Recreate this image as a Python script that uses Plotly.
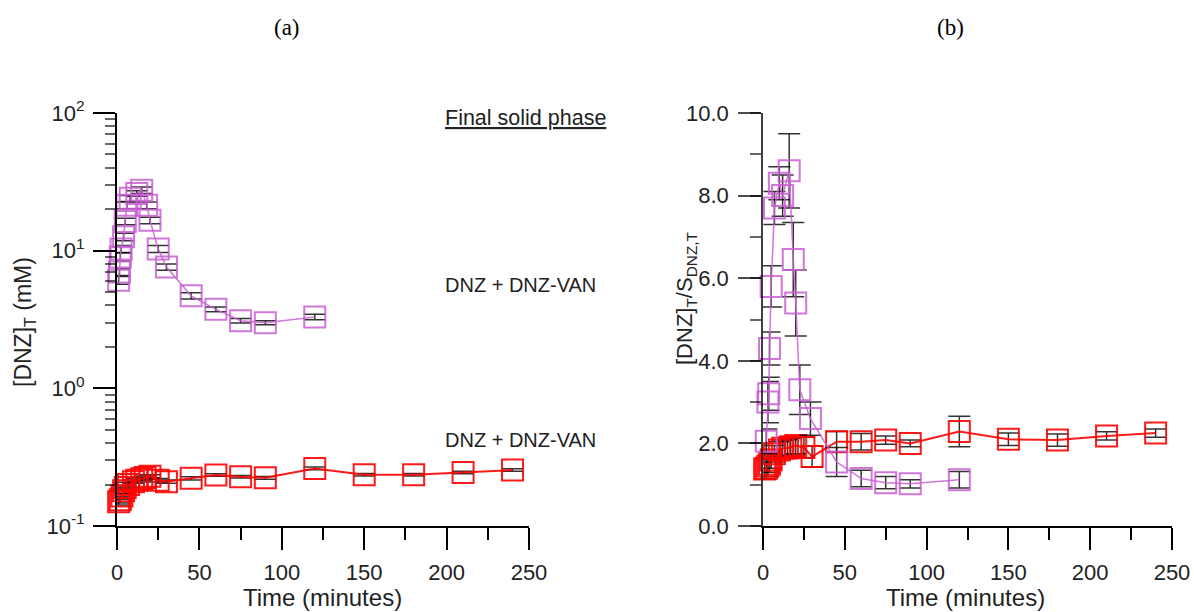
import plotly.graph_objects as go

# ---------------- data ----------------
# Panel (a): total DNZ concentration (mM)
t_a_purple = [1, 1.5, 2, 2.5, 4, 5, 6, 8, 12, 15, 18, 20, 25, 30, 45, 60, 75, 90, 120]
dnz_a_purple = [6.1, 7.0, 9.0, 10.3, 12.6, 16.3, 21.4, 24.0, 26.0, 27.5, 21.4, 16.6, 10.3, 7.6, 4.7, 3.75, 3.1, 3.0, 3.3]
err_a_purple = [0.4, 0.4, 0.6, 0.6, 0.8, 0.9, 1.2, 1.2, 1.2, 1.5, 1.2, 0.9, 0.6, 0.4, 0.25, 0.15, 0.12, 0.1, 0.15]

t_red = [1, 2, 3, 4, 5, 7, 10, 12, 15, 17, 20, 25, 30, 45, 60, 75, 90, 120, 150, 180, 210, 240]
dnz_a_red = [0.15, 0.155, 0.165, 0.18, 0.19, 0.2, 0.21, 0.215, 0.22, 0.225, 0.23, 0.215, 0.21,
             0.222, 0.235, 0.228, 0.224, 0.262, 0.236, 0.236, 0.245, 0.255]
err_a_red = [0.008, 0.008, 0.008, 0.008, 0.008, 0.008, 0.006, 0.006, 0.006, 0.006, 0.006, 0.006, 0.006,
             0.006, 0.005, 0.005, 0.005, 0.006, 0.005, 0.005, 0.005, 0.005]

# Panel (b): [DNZ]T / S_DNZ,T
t_b_purple = [2, 3, 3.5, 4, 5, 7, 10, 12, 16, 18.5, 20, 22.5, 29, 45, 60, 75, 90, 120]
ratio_b_purple = [2.05, 3.0, 3.2, 4.3, 5.8, 7.7, 8.3, 8.0, 8.6, 6.45, 5.4, 3.3, 2.6, 1.55, 1.15, 1.05, 1.02, 1.12]
err_b_purple = [0.3, 0.5, 0.4, 0.4, 0.5, 0.4, 0.4, 0.5, 0.9, 0.9, 0.8, 0.6, 0.4, 0.35, 0.2, 0.15, 0.1, 0.2]

ratio_b_red = [1.38, 1.4, 1.45, 1.5, 1.6, 1.75, 1.84, 1.88, 1.89, 1.92, 1.95, 1.9, 1.68,
               2.04, 2.04, 2.08, 2.0, 2.29, 2.1, 2.08, 2.18, 2.25]
err_b_red = [0.25, 0.25, 0.25, 0.2, 0.2, 0.2, 0.2, 0.2, 0.2, 0.2, 0.2, 0.25, 0.25,
             0.25, 0.2, 0.1, 0.08, 0.37, 0.15, 0.15, 0.1, 0.1]

x_ticks = [0, 50, 100, 150, 200, 250]
ya_ticks = [0.1, 1, 10, 100]
ya_ticktext = ["10<sup>-1</sup>", "10<sup>0</sup>", "10<sup>1</sup>", "10<sup>2</sup>"]
ya_minor = [m * d for d in (0.1, 1, 10) for m in range(2, 10)]
yb_ticks = [0, 2, 4, 6, 8, 10]
yb_ticktext = ["0.0", "2.0", "4.0", "6.0", "8.0", "10.0"]

# ---------------- style ----------------
PURPLE = "rgba(200,95,210,0.85)"
RED = "rgba(255,0,0,0.9)"
FONT = "Liberation Sans, Arial, sans-serif"
TICKFONT = dict(family=FONT, size=22, color="#222")

W, H = 1194, 612

def px(X):
    return X / W

def py(Y):
    return 1 - Y / H

def series(x, y, err, color, lw, xa, ya):
    return go.Scatter(
        x=x, y=y, mode="lines+markers", xaxis=xa, yaxis=ya,
        line=dict(color=color, width=lw),
        marker=dict(symbol="square-open", size=21, color=color, line=dict(width=2, color=color)),
        error_y=dict(type="data", array=err, color="rgba(0,0,0,0.8)", thickness=1.5, width=11),
        cliponaxis=False, showlegend=False,
    )

fig = go.Figure()
fig.add_trace(series(t_red, dnz_a_red, err_a_red, RED, 2, "x", "y"))
fig.add_trace(series(t_a_purple, dnz_a_purple, err_a_purple, PURPLE, 1.5, "x", "y"))
fig.add_trace(series(t_red, ratio_b_red, err_b_red, RED, 2, "x2", "y2"))
fig.add_trace(series(t_b_purple, ratio_b_purple, err_b_purple, PURPLE, 1.5, "x2", "y2"))

ydom = [py(526), py(113)]

xcommon = dict(range=[0, 250], tickvals=x_ticks, ticks="outside", ticklen=22, tickwidth=2,
               tickcolor="black", showline=True, linecolor="black", linewidth=2,
               showgrid=False, zeroline=False, ticklabelstandoff=4, automargin=False,
               tickfont=TICKFONT,
               minor=dict(dtick=25, tick0=0, ticks="outside", ticklen=12, tickwidth=2,
                          tickcolor="black", showgrid=False))

fig.update_layout(
    width=W, height=H, margin=dict(l=0, r=0, t=0, b=0, autoexpand=False),
    paper_bgcolor="white", plot_bgcolor="white",
    xaxis=dict(domain=[px(117), px(529)], anchor="y", **xcommon),
    xaxis2=dict(domain=[px(763), px(1172)], anchor="y2", **xcommon),
    yaxis=dict(domain=ydom, anchor="x", type="log", range=[-1, 2], automargin=False,
               tickvals=ya_ticks, ticktext=ya_ticktext, ticks="outside", ticklen=22,
               tickwidth=2, tickcolor="black", showline=True, linecolor="black", linewidth=2,
               showgrid=False, zeroline=False, ticklabelstandoff=4,
               tickfont=TICKFONT,
               minor=dict(tickvals=ya_minor, ticks="outside", ticklen=10, tickwidth=2,
                          tickcolor="rgba(0,0,0,0.6)", showgrid=False)),
    yaxis2=dict(domain=ydom, anchor="x2", range=[0, 10], automargin=False,
                tickvals=yb_ticks, ticktext=yb_ticktext, ticks="outside", ticklen=23,
                tickwidth=2, tickcolor="rgba(0,0,0,0.7)", showline=True,
                linecolor="rgba(0,0,0,0.75)", linewidth=1.5,
                showgrid=False, zeroline=False, ticklabelstandoff=5,
                tickfont=TICKFONT,
                minor=dict(dtick=1, tick0=0, ticks="outside", ticklen=11, tickwidth=2,
                           tickcolor="rgba(0,0,0,0.6)", showgrid=False)),
)

def ann(text, x, y, size=21, angle=0, family=FONT, xanchor="center", color="#222"):
    fig.add_annotation(text=text, x=px(x), y=py(y), xref="paper", yref="paper",
                       showarrow=False, textangle=angle, xanchor=xanchor, yanchor="middle",
                       font=dict(family=family, size=size, color=color))

SERIF = "Liberation Serif, DejaVu Serif, serif"
ann("(a)", 287, 28, size=23, family=SERIF, color="black")
ann("(b)", 950, 28, size=23, family=SERIF, color="black")
ann("<u>Final solid phase</u>", 443, 118, size=21.5, xanchor="left")
ann("DNZ + DNZ-VAN", 443, 285, size=20, xanchor="left")
ann("DNZ + DNZ-VAN", 443, 440, size=20, xanchor="left")
ann("[DNZ]<sub>T</sub> (mM)", 24, 322, size=23, angle=-90)
ann("[DNZ]<sub>T</sub>/S<sub>DNZ,T</sub>", 686, 298, size=22, angle=-90)
ann("Time (minutes)", 322, 597, size=24)
ann("Time (minutes)", 965, 597, size=24)

# remove the default 8px page margin so the figure fills the 1194x612 window exactly
fig.write_html("out.html", config={"displayModeBar": False},
               post_script="document.body.style.margin='0';")
